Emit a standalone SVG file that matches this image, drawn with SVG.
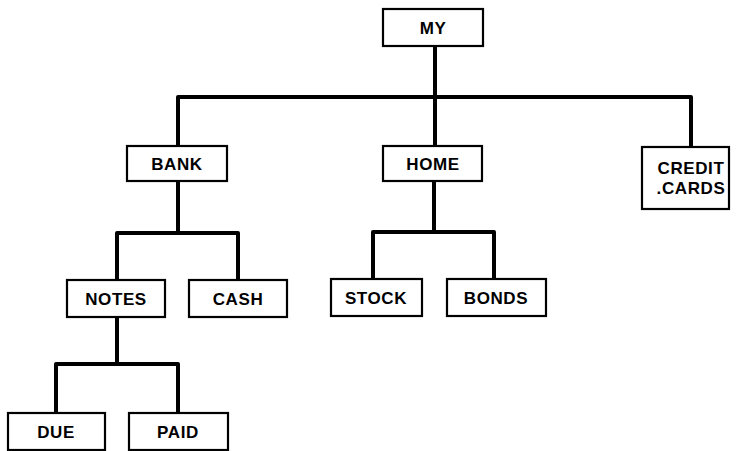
<svg xmlns="http://www.w3.org/2000/svg" width="736" height="451" viewBox="0 0 736 451">
  <style>
    .box { fill: #fff; stroke: #000; stroke-width: 2.2; }
    .lbl { font-family: "Liberation Sans", Arial, sans-serif; font-weight: bold; font-size: 17px; letter-spacing: 0.6px; text-anchor: middle; fill: #000; }
    .wire { fill: none; stroke: #000; stroke-width: 4; stroke-linejoin: round; stroke-linecap: butt; }
  </style>
  <rect width="736" height="451" fill="#fff"/>

  <!-- tree connectors -->
  <g id="connectors">
    <path class="wire" d="M435 46 V97"/>
    <path class="wire" d="M178 146 V97 H691 V147"/>
    <path class="wire" d="M435 97 V146"/>
    <path class="wire" d="M178 181 V233"/>
    <path class="wire" d="M117 280 V233 H238 V280"/>
    <path class="wire" d="M434 181 V232"/>
    <path class="wire" d="M373 279 V232 H494 V279"/>
    <path class="wire" d="M117 317 V364"/>
    <path class="wire" d="M56 413 V364 H178 V413"/>
  </g>

  <g id="my">
    <rect class="box" x="383" y="9" width="100" height="37"/>
    <text class="lbl" x="433" y="34">MY</text>
  </g>
  <g id="bank">
    <rect class="box" x="127" y="146" width="100" height="35"/>
    <text class="lbl" x="177" y="170">BANK</text>
  </g>
  <g id="home">
    <rect class="box" x="383" y="146" width="99" height="35"/>
    <text class="lbl" x="433" y="170">HOME</text>
  </g>
  <g id="credit-cards">
    <rect class="box" x="642" y="147" width="87" height="62"/>
    <text class="lbl" x="691" y="174">CREDIT</text>
    <text class="lbl" x="691" y="194">.CARDS</text>
  </g>
  <g id="notes">
    <rect class="box" x="67" y="280" width="98" height="37"/>
    <text class="lbl" x="116" y="305">NOTES</text>
  </g>
  <g id="cash">
    <rect class="box" x="189" y="280" width="98" height="37"/>
    <text class="lbl" x="238" y="305">CASH</text>
  </g>
  <g id="stock">
    <rect class="box" x="331" y="279" width="91" height="37"/>
    <text class="lbl" x="376" y="304">STOCK</text>
  </g>
  <g id="bonds">
    <rect class="box" x="447" y="279" width="99" height="37"/>
    <text class="lbl" x="496" y="304">BONDS</text>
  </g>
  <g id="due">
    <rect class="box" x="8" y="413" width="97" height="37"/>
    <text class="lbl" x="56" y="438">DUE</text>
  </g>
  <g id="paid">
    <rect class="box" x="129" y="413" width="99" height="37"/>
    <text class="lbl" x="178" y="438">PAID</text>
  </g>
</svg>
